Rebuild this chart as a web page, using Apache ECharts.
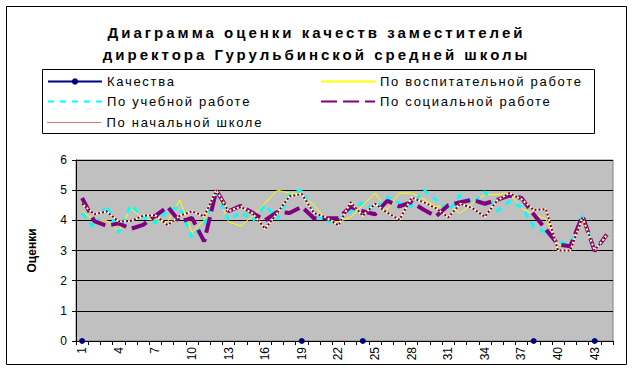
<!DOCTYPE html>
<html><head><meta charset="utf-8">
<script src="https://cdn.jsdelivr.net/npm/echarts@6/dist/echarts.min.js"></script>
<style>
html,body{margin:0;padding:0;background:#fff;}
#c{width:633px;height:372px;}
#c text[style*="15px"]{letter-spacing:3px;}
#c text[style*="13px"]{letter-spacing:1.7px;}
</style>
</head><body><div id="c"></div>
<script>
const categories = [];
for (let i = 1; i <= 44; i++) categories.push(String(i));
const yTicks = [0, 1, 2, 3, 4, 5, 6];
const seriesNames = ['Качества', 'По воспитательной работе', 'По учебной работе', 'По социальной работе', 'По начальной школе'];
const kachestva = [0,null,null,null,null,null,null,null,null,null,null,null,null,null,null,null,null,null,0,null,null,null,null,0,null,null,null,null,null,null,null,null,null,null,null,null,null,0,null,null,null,null,0,null];
const vospit = [4.3,4.0,4.0,3.65,4.4,4.05,4.0,3.95,4.68,3.6,4.0,4.95,3.95,3.81,4.15,4.57,5.0,4.9,4.88,4.5,4.02,3.95,4.1,4.5,4.9,4.35,4.9,4.9,4.7,4.45,4.45,4.24,4.57,4.85,4.85,4.9,4.4,4.2,4.05,3.2,3.14,3.95,3.0,3.5];
const uchebn = [4.24,3.75,4.5,3.6,4.5,4.1,3.92,4.3,4.45,3.42,3.85,4.95,4.0,4.28,4.0,4.5,4.05,4.85,5.0,4.24,3.95,4.0,4.28,4.6,4.35,4.78,4.57,4.46,5.0,4.68,4.3,4.85,4.55,4.95,4.3,4.63,4.45,3.8,3.6,3.3,3.2,4.15,3.03,3.5];
const social = [4.74,3.97,3.82,3.9,3.72,3.85,4.15,4.45,3.95,4.08,3.3,5.0,4.3,4.48,4.24,4.0,4.28,4.24,4.45,4.07,4.07,4.07,4.45,4.3,4.2,4.65,4.46,4.6,4.35,4.13,4.5,4.6,4.68,4.55,4.68,4.82,4.74,4.2,3.7,3.2,3.14,4.15,2.98,3.53];
const nachaln = [4.55,4.2,4.3,3.96,3.98,4.15,4.17,3.84,4.15,4.3,4.13,5.0,4.3,4.45,4.22,3.72,4.25,4.8,4.87,4.24,4.1,3.83,4.6,4.15,4.55,4.25,4.02,4.75,4.6,4.4,4.1,4.55,4.4,4.12,4.65,4.9,4.7,4.34,4.37,3.0,3.0,4.1,3.0,3.52];

const FONT = 'Arial, "Liberation Sans", sans-serif';
const chart = echarts.init(document.getElementById('c'), null, {renderer: 'svg'});

function leg(name, left, top, extra) {
  return Object.assign({
    data: [name], left: left, top: top, orient: 'horizontal',
    itemWidth: 54, itemHeight: 8, padding: 0,
    textStyle: {fontFamily: FONT, fontSize: 13, color: '#000'},
    selectedMode: false
  }, extra || {});
}
const noSym = {itemStyle: {opacity: 0}};

chart.setOption({
  animation: false,
  backgroundColor: '#fff',
  title: {
    text: 'Диаграмма оценки качеств заместителей\nдиректора Гурульбинской средней школы',
    left: 'center', top: 16,
    textStyle: {fontFamily: FONT, fontSize: 15, fontWeight: 'bold', color: '#000', lineHeight: 22}
  },
  graphic: [
    {type: 'rect', shape: {x: 6.5, y: 6.5, width: 620, height: 358}, style: {fill: 'none', stroke: '#000', lineWidth: 1}, z: -10},
    {type: 'rect', shape: {x: 42.5, y: 69.5, width: 552, height: 64}, style: {fill: '#fff', stroke: '#000', lineWidth: 1}, z: -5}
  ],
  legend: [
    leg(seriesNames[0], 47, 75),
    leg(seriesNames[1], 320, 75, noSym),
    leg(seriesNames[2], 47, 95, noSym),
    leg(seriesNames[3], 320, 95, noSym),
    leg(seriesNames[4], 47, 116, {itemStyle: {opacity: 0}, lineStyle: {width: 1, type: [1, 1], color: '#800000'}})
  ],
  grid: {left: 76, top: 160, right: 20, bottom: 31, show: true, backgroundColor: '#C0C0C0', borderColor: '#808080', borderWidth: 1},
  xAxis: {
    type: 'category', data: categories, boundaryGap: true,
    axisLine: {lineStyle: {color: '#000', width: 1}},
    axisTick: {show: true, interval: 0, length: 4, lineStyle: {color: '#000'}},
    axisLabel: {interval: 2, rotate: 90, margin: 6, fontFamily: FONT, fontSize: 12, color: '#000'},
    splitLine: {show: false}
  },
  yAxis: {
    type: 'value', min: yTicks[0], max: yTicks[yTicks.length - 1], interval: 1,
    name: 'Оценки', nameLocation: 'middle', nameGap: 38,
    nameTextStyle: {fontFamily: FONT, fontSize: 12, fontWeight: 'bold', color: '#000'},
    axisLine: {show: true, lineStyle: {color: '#000', width: 1}},
    axisTick: {show: true, length: 4, lineStyle: {color: '#000'}},
    axisLabel: {margin: 9, fontFamily: FONT, fontSize: 12, color: '#000'},
    splitLine: {show: true, lineStyle: {color: '#000', width: 1}}
  },
  series: [
    {name: seriesNames[0], type: 'line', data: kachestva, connectNulls: false,
     symbol: 'circle', symbolSize: 6, showAllSymbol: true,
     itemStyle: {color: '#000080'}, lineStyle: {color: '#000080', width: 1}, z: 10},
    {name: seriesNames[1], type: 'line', data: vospit, symbol: 'none',
     lineStyle: {color: '#FFFF00', width: 1}, itemStyle: {color: '#FFFF00'}, z: 2},
    {name: seriesNames[2], type: 'line', data: uchebn, symbol: 'none',
     lineStyle: {color: '#00FFFF', width: 3, type: [6, 6]}, itemStyle: {color: '#00FFFF'}, z: 3},
    {name: seriesNames[3], type: 'line', data: social, symbol: 'none',
     lineStyle: {color: '#800080', width: 4, type: [16, 6]}, itemStyle: {color: '#800080'}, z: 4},
    {name: 'bg', type: 'line', data: nachaln, symbol: 'none', silent: true,
     lineStyle: {color: '#FFFFFF', width: 2}, z: 5},
    {name: seriesNames[4], type: 'line', data: nachaln, symbol: 'none',
     lineStyle: {color: '#800000', width: 2, type: [2, 2]}, itemStyle: {color: '#800000'}, z: 6}
  ]
});
</script></body></html>
